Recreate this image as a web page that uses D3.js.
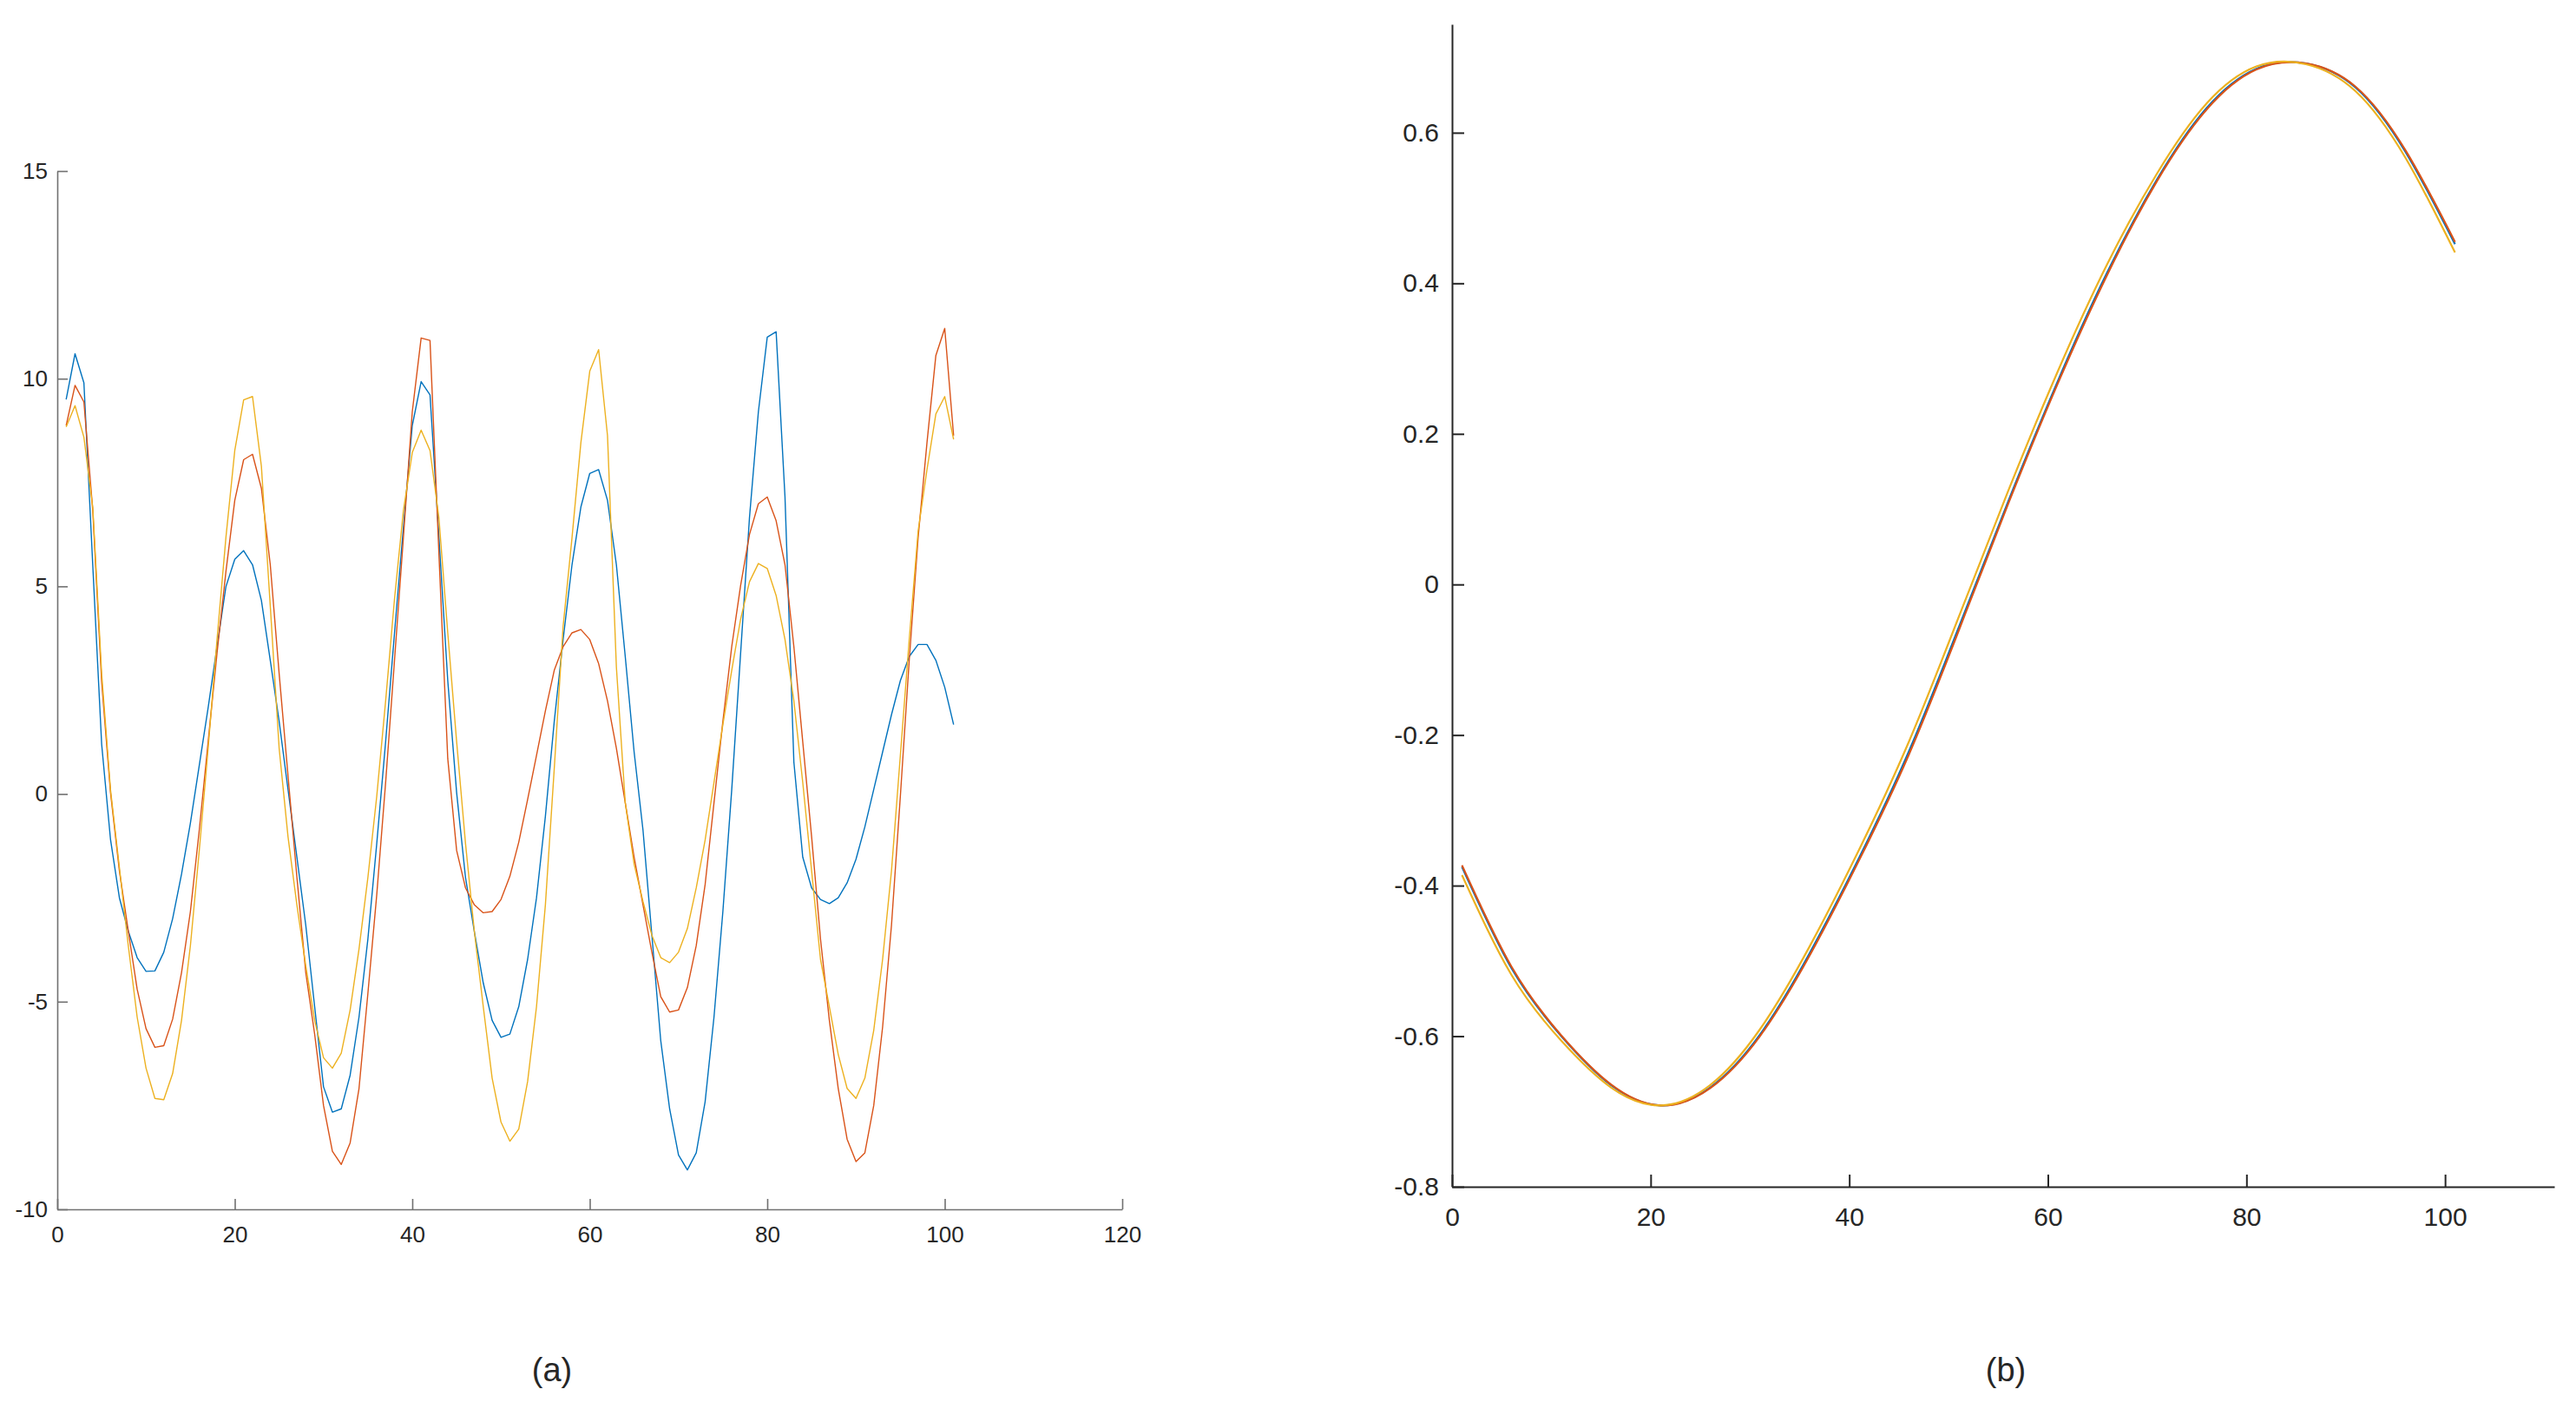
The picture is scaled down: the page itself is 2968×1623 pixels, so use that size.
<!DOCTYPE html>
<html>
<head>
<meta charset="utf-8">
<script src="https://cdnjs.cloudflare.com/ajax/libs/d3/7.8.5/d3.min.js"></script>
<style>
  body { margin: 0; background: #fff; }
  svg text { font-family: "Liberation Sans", Arial, sans-serif; fill: #262626; }
</style>
</head>
<body>
<div id="chart"></div>
<script>
// ---- data: panel (a), samples 1..101
let seriesA1 = [9.5, 10.6, 9.9, 5.5, 1.2, -1.1, -2.5, -3.3, -3.94, -4.27,
  -4.26, -3.81, -3.0, -1.93, -0.7, 0.69, 2.08, 3.55, 4.99, 5.65,
  5.86, 5.52, 4.66, 3.22, 1.75, 0.11, -1.52, -3.16, -5.12, -7.05,
  -7.66, -7.58, -6.77, -5.37, -3.49, -1.19, 1.26, 3.88, 6.42, 8.87,
  9.93, 9.61, 6.2, 2.73, 0.03, -2.01, -3.32, -4.55, -5.45, -5.86,
  -5.78, -5.12, -3.98, -2.5, -0.54, 1.75, 3.72, 5.52, 6.91, 7.72,
  7.81, 7.07, 5.52, 3.31, 1.01, -0.87, -3.4, -5.94, -7.58, -8.69,
  -9.05, -8.64, -7.41, -5.37, -2.83, 0.11, 3.39, 6.66, 9.2, 11.0,
  11.13, 7.15, 0.77, -1.52, -2.26, -2.54, -2.64, -2.5, -2.14, -1.57,
  -0.79, 0.11, 1.01, 1.91, 2.73, 3.31, 3.6, 3.6, 3.22, 2.57,
  1.67];
let seriesA2 = [8.87, 9.84, 9.44, 6.82, 2.7, 0.03, -1.85, -3.3, -4.7, -5.65,
  -6.1, -6.06, -5.42, -4.3, -2.83, -0.87, 1.26, 3.39, 5.35, 7.07,
  8.05, 8.18, 7.36, 5.52, 2.9, 0.44, -2.0, -4.3, -5.78, -7.5,
  -8.6, -8.92, -8.4, -7.09, -4.8, -2.42, 0.28, 3.22, 6.17, 9.2,
  10.98, 10.92, 5.8, 0.85, -1.36, -2.26, -2.67, -2.86, -2.83, -2.54,
  -1.98, -1.16, -0.13, 0.93, 2.0, 2.98, 3.55, 3.88, 3.96, 3.72,
  3.14, 2.24, 1.1, -0.21, -1.52, -2.67, -3.81, -4.88, -5.25, -5.2,
  -4.66, -3.65, -2.18, -0.21, 1.75, 3.55, 5.02, 6.25, 6.99, 7.15,
  6.58, 5.52, 3.55, 1.26, -1.03, -3.49, -5.45, -7.09, -8.31, -8.85,
  -8.64, -7.5, -5.61, -3.16, -0.05, 3.22, 6.17, 8.46, 10.56, 11.21,
  8.63];
let seriesA3 = [8.84, 9.35, 8.59, 6.9, 2.9, 0.1, -1.77, -3.65, -5.37, -6.6,
  -7.33, -7.36, -6.73, -5.45, -3.65, -1.36, 1.1, 3.72, 6.17, 8.27,
  9.49, 9.57, 7.89, 4.53, 1.1, -1.03, -2.67, -4.14, -5.45, -6.35,
  -6.6, -6.24, -5.2, -3.73, -2.01, -0.05, 2.24, 4.7, 6.82, 8.22,
  8.76, 8.27, 6.66, 3.88, 1.26, -1.19, -3.32, -5.12, -6.84, -7.9,
  -8.36, -8.07, -6.92, -5.12, -2.67, 0.61, 4.04, 6.17, 8.46, 10.18,
  10.7, 8.63, 3.06, -0.21, -1.69, -2.59, -3.4, -3.94, -4.06, -3.81,
  -3.24, -2.26, -1.11, 0.28, 1.67, 2.98, 4.21, 5.11, 5.55, 5.43,
  4.78, 3.72, 2.24, 0.28, -1.85, -3.98, -5.12, -6.27, -7.09, -7.33,
  -6.84, -5.69, -3.98, -1.85, 0.93, 3.72, 6.33, 7.81, 9.15, 9.57,
  8.54];
let xTicksA = [0, 20, 40, 60, 80, 100, 120];
let yTicksA = [-10, -5, 0, 5, 10, 15];

// ---- data: panel (b), read every 5 samples
let xB = [1, 6, 11, 16, 21, 26, 31, 36, 41, 46, 51, 56, 61, 66, 71, 76, 81, 86, 91, 96, 101];
let seriesB1 = [-0.375, -0.51, -0.6, -0.665, -0.692, -0.668, -0.598, -0.49, -0.363, -0.222, -0.058,
  0.11, 0.27, 0.415, 0.538, 0.633, 0.685, 0.692, 0.66, 0.575, 0.452];
let seriesB2 = [-0.373, -0.508, -0.599, -0.664, -0.692, -0.669, -0.6, -0.493, -0.366, -0.226, -0.062,
  0.107, 0.267, 0.412, 0.536, 0.631, 0.684, 0.692, 0.661, 0.577, 0.455];
let seriesB3 = [-0.386, -0.519, -0.606, -0.668, -0.692, -0.665, -0.591, -0.481, -0.352, -0.209, -0.044,
  0.124, 0.283, 0.426, 0.546, 0.639, 0.688, 0.691, 0.655, 0.567, 0.441];
let xTicksB = [0, 20, 40, 60, 80, 100];
let yTicksB = [-0.8, -0.6, -0.4, -0.2, 0, 0.2, 0.4, 0.6];

let colors = ["#0072BD", "#D95319", "#EDB120"];

let svg = d3.select("#chart")
    .append("svg")
    .attr("width", 2968)
    .attr("height", 1623);

// ---------- panel (a)
let xA = d3.scaleLinear().domain([0, 120]).range([66, 1293]);
let yA = d3.scaleLinear().domain([-10, 15]).range([1393, 197]);

let lineA = d3.line()
    .x(function(d, i) { return xA(i + 1); })
    .y(function(d) { return yA(d); });

let gA = svg.append("g");

[seriesA1, seriesA2, seriesA3].forEach(function(s, k) {
    gA.append("path")
      .datum(s)
      .attr("d", lineA)
      .attr("fill", "none")
      .attr("stroke", colors[k])
      .attr("stroke-width", 1.4)
      .attr("stroke-linejoin", "round");
});

let axA_x = gA.append("g")
    .attr("transform", `translate(0, ${yA(-10)})`)
    .call(d3.axisBottom(xA).tickValues(xTicksA).tickSizeInner(-12).tickSizeOuter(0)
          .tickPadding(20).tickFormat(function(d) { return String(d); }));
let axA_y = gA.append("g")
    .attr("transform", `translate(${xA(0)}, 0)`)
    .call(d3.axisLeft(yA).tickValues(yTicksA).tickSizeInner(-12).tickSizeOuter(0)
          .tickPadding(11).tickFormat(function(d) { return String(d); }));

[axA_x, axA_y].forEach(function(ax) {
    ax.selectAll("path, line").attr("stroke", "#707070").attr("stroke-width", 1.6);
    ax.selectAll("text").style("font-size", "26px").attr("fill", "#262626");
});

// ---------- panel (b)
let xBs = d3.scaleLinear().domain([0, 111]).range([1673, 2943]);
let yBs = d3.scaleLinear().domain([-0.8, 0.744]).range([1367, 28]);

let lineB = d3.line()
    .curve(d3.curveNatural)
    .x(function(d, i) { return xBs(xB[i]); })
    .y(function(d) { return yBs(d); });

let gB = svg.append("g");

[seriesB1, seriesB2, seriesB3].forEach(function(s, k) {
    gB.append("path")
      .datum(s)
      .attr("d", lineB)
      .attr("fill", "none")
      .attr("stroke", colors[k])
      .attr("stroke-width", 2.2);
});

let axB_x = gB.append("g")
    .attr("transform", `translate(0, ${yBs(-0.8)})`)
    .call(d3.axisBottom(xBs).tickValues(xTicksB).tickSizeInner(-14).tickSizeOuter(0)
          .tickPadding(24).tickFormat(function(d) { return String(d); }));
let axB_y = gB.append("g")
    .attr("transform", `translate(${xBs(0)}, 0)`)
    .call(d3.axisLeft(yBs).tickValues(yTicksB).tickSizeInner(-14).tickSizeOuter(0)
          .tickPadding(15).tickFormat(function(d) { return String(d); }));

[axB_x, axB_y].forEach(function(ax) {
    ax.selectAll("path, line").attr("stroke", "#262626").attr("stroke-width", 2);
    ax.selectAll("text").style("font-size", "30px").attr("fill", "#262626");
});

// ---------- captions
svg.append("text")
    .attr("x", 636).attr("y", 1591)
    .attr("text-anchor", "middle")
    .style("font-size", "38px")
    .text("(a)");
svg.append("text")
    .attr("x", 2311).attr("y", 1591)
    .attr("text-anchor", "middle")
    .style("font-size", "38px")
    .text("(b)");
</script>
</body>
</html>
